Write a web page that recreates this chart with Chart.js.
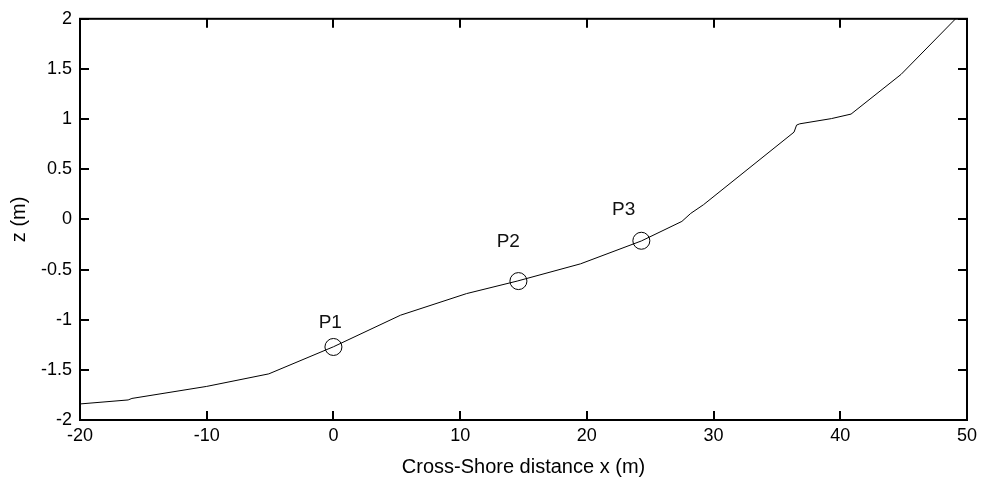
<!DOCTYPE html>
<html>
<head>
<meta charset="utf-8">
<script src="https://cdn.jsdelivr.net/npm/chart.js@4.4.1/dist/chart.umd.min.js"></script>
<style>
  html, body { margin: 0; padding: 0; background: #fff; }
  #wrap { width: 983px; height: 485px; }
</style>
</head>
<body>
<div id="wrap"><canvas id="profile" width="983" height="485"></canvas></div>
<script>
// beach profile
const profileX = [-20, -16.2, -15.9, -10, -5.1, 0, 5.3, 10.5, 14.5, 19.5, 24.3, 27.5, 28.2, 29.2, 36.35, 36.55, 36.8, 39.3, 40.85, 44.8, 49.1];
const profileZ = [-1.84, -1.80, -1.785, -1.665, -1.54, -1.27, -0.955, -0.74, -0.615, -0.443, -0.215, -0.02, 0.06, 0.146, 0.87, 0.94, 0.953, 1.005, 1.05, 1.446, 2.0];

// gauge positions and their labels
const gaugeNames = ['P1', 'P2', 'P3'];
const gaugeX = [0, 14.6, 24.3];
const gaugeZ = [-1.272, -0.615, -0.213];
const labelX = [-0.25, 13.8, 22.9];
const labelZ = [-1.03, -0.22, 0.10];

const xTicks = [-20, -10, 0, 10, 20, 30, 40, 50];
const yTicks = [-2, -1.5, -1, -0.5, 0, 0.5, 1, 1.5, 2];

const fontFam = '"Liberation Sans", Arial, Helvetica, sans-serif';

const framePlugin = {
    id: 'frame',
    afterDraw: function(chart) {
        const ctx = chart.ctx;
        const a = chart.chartArea;
        const xs = chart.scales.x, ys = chart.scales.y;
        const tl = 9;
        ctx.save();
        ctx.strokeStyle = '#000';
        ctx.lineWidth = 2;
        ctx.strokeRect(a.left, a.top, a.right - a.left, a.bottom - a.top);
        ctx.beginPath();
        xs.ticks.forEach(function(t) {
            const px = Math.round(xs.getPixelForValue(t.value));
            ctx.moveTo(px, a.bottom); ctx.lineTo(px, a.bottom - tl);
            ctx.moveTo(px, a.top); ctx.lineTo(px, a.top + tl);
        });
        ys.ticks.forEach(function(t) {
            const py = Math.round(ys.getPixelForValue(t.value));
            ctx.moveTo(a.left, py); ctx.lineTo(a.left + tl, py);
            ctx.moveTo(a.right, py); ctx.lineTo(a.right - tl, py);
        });
        ctx.stroke();

        // gauge labels
        ctx.fillStyle = '#111';
        ctx.font = '19px ' + fontFam;
        ctx.textAlign = 'center';
        ctx.textBaseline = 'middle';
        gaugeNames.forEach(function(name, i) {
            ctx.fillText(name, xs.getPixelForValue(labelX[i]), ys.getPixelForValue(labelZ[i]));
        });
        ctx.restore();
    }
};

new Chart(document.getElementById('profile').getContext('2d'), {
    type: 'line',
    data: {
        datasets: [{
            data: profileX.map(function(x, i) { return {x: x, y: profileZ[i]}; }),
            borderColor: '#000',
            borderWidth: 1,
            pointRadius: 0,
            tension: 0,
            fill: false
        }, {
            data: gaugeX.map(function(x, i) { return {x: x, y: gaugeZ[i]}; }),
            showLine: false,
            pointStyle: 'circle',
            pointRadius: 8.5,
            pointBorderColor: '#000',
            pointBorderWidth: 1,
            pointBackgroundColor: 'rgba(0,0,0,0)'
        }]
    },
    options: {
        responsive: false,
        animation: false,
        layout: { padding: { top: 16, right: 16, left: 0, bottom: 0 } },
        plugins: { legend: { display: false }, tooltip: { enabled: false } },
        scales: {
            x: {
                type: 'linear',
                min: -20, max: 50,
                afterBuildTicks: function(s) { s.ticks = xTicks.map(function(v) { return {value: v}; }); },
                afterFit: function(s) { s.height = 65; },
                grid: { display: false, drawTicks: false },
                border: { display: false },
                ticks: { color: '#000', padding: 5, font: { family: fontFam, size: 18 }, maxRotation: 0,
                         callback: function(v) { return String(v); } },
                title: { display: true, text: 'Cross-Shore distance x (m)', color: '#000',
                         font: { family: fontFam, size: 20 }, padding: { top: 0, bottom: 6 } }
            },
            y: {
                type: 'linear',
                min: -2, max: 2,
                afterBuildTicks: function(s) { s.ticks = yTicks.map(function(v) { return {value: v}; }); },
                afterFit: function(s) { s.width = 80; },
                grid: { display: false, drawTicks: false },
                border: { display: false },
                ticks: { color: '#000', padding: 8, font: { family: fontFam, size: 18 },
                         callback: function(v) { return String(v); } },
                title: { display: true, text: 'z (m)', color: '#000',
                         font: { family: fontFam, size: 20 }, padding: { top: 7, bottom: 0 } }
            }
        }
    },
    plugins: [framePlugin]
});
</script>
</body>
</html>
